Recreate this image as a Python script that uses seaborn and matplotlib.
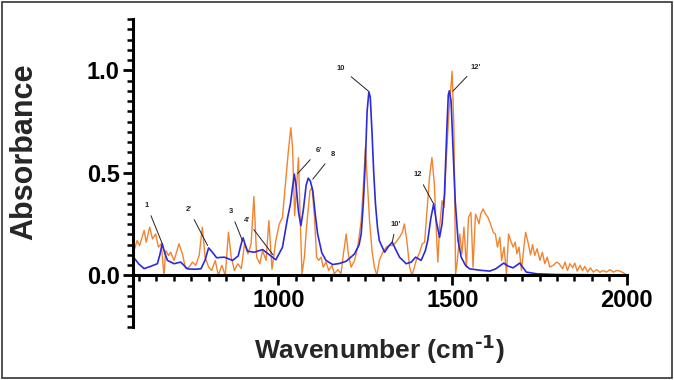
import matplotlib
matplotlib.use("Agg")
import matplotlib.pyplot as plt
from matplotlib.ticker import MultipleLocator, FixedLocator
from matplotlib.patches import Rectangle
import seaborn as sns
import pandas as pd

# ---------------- data ----------------
blue_wn = [583, 600, 615, 635, 653, 660, 667, 674, 682, 701, 720, 739, 760, 778,
           790, 800, 810, 823, 845, 869, 885, 893, 899, 905, 912, 931, 955, 975,
           993, 1012, 1027, 1035, 1041, 1046, 1051, 1058, 1065, 1072, 1080, 1086,
           1092, 1099, 1106, 1113, 1125, 1137, 1156, 1175, 1195, 1219, 1232, 1238,
           1244, 1250, 1255, 1260, 1264, 1269, 1274, 1279, 1285, 1290, 1305, 1318,
           1327, 1336, 1348, 1367, 1382, 1394, 1410, 1422, 1429, 1438, 1446, 1454,
           1463, 1470, 1477, 1484, 1488, 1491, 1496, 1501, 1508, 1516, 1525, 1537,
           1549, 1580, 1607, 1624, 1647, 1660, 1674, 1693, 1712, 1741, 1800, 1900,
           2000]
blue_abs = [0.092, 0.055, 0.033, 0.045, 0.057, 0.100, 0.154, 0.110, 0.073, 0.057,
            0.065, 0.032, 0.030, 0.032, 0.075, 0.134, 0.115, 0.086, 0.089, 0.073,
            0.095, 0.150, 0.183, 0.150, 0.118, 0.113, 0.126, 0.100, 0.076, 0.137,
            0.283, 0.350, 0.430, 0.494, 0.440, 0.310, 0.243, 0.320, 0.440, 0.474,
            0.460, 0.413, 0.300, 0.202, 0.110, 0.073, 0.053, 0.058, 0.069, 0.105,
            0.150, 0.202, 0.350, 0.558, 0.800, 0.895, 0.870, 0.700, 0.500, 0.348,
            0.230, 0.170, 0.113, 0.145, 0.162, 0.130, 0.089, 0.057, 0.065, 0.089,
            0.073, 0.120, 0.170, 0.280, 0.348, 0.260, 0.186, 0.250, 0.397, 0.720,
            0.880, 0.900, 0.850, 0.640, 0.360, 0.170, 0.089, 0.050, 0.032, 0.025,
            0.021, 0.032, 0.060, 0.045, 0.037, 0.060, 0.016, 0.008, 0.004, 0.003,
            0.002]

orange_wn = [583, 586, 595, 602, 615, 621, 631, 639, 648, 656, 664, 672, 677, 685,
             691, 701, 715, 725, 734, 744, 754, 763, 773, 782, 790, 800, 809, 819,
             828, 838, 848, 857, 865, 874, 884, 894, 903, 913, 922, 930, 938, 947,
             955, 965, 973, 982, 993, 1003, 1012, 1022, 1029, 1036, 1041, 1047,
             1053, 1058, 1062, 1068, 1075, 1081, 1091, 1097, 1104, 1110, 1116, 1123,
             1129, 1137, 1145, 1154, 1161, 1171, 1180, 1187, 1195, 1201, 1209, 1219,
             1228, 1238, 1244, 1250, 1255, 1262, 1269, 1276, 1283, 1290, 1300, 1310,
             1319, 1329, 1338, 1348, 1356, 1362, 1369, 1377, 1384, 1396, 1406, 1413,
             1420, 1427, 1434, 1441, 1448, 1454, 1458, 1463, 1470, 1476, 1482, 1490,
             1499, 1504, 1509, 1514, 1521, 1527, 1533, 1540, 1546, 1553, 1559, 1566,
             1570, 1576, 1581, 1588, 1595, 1602, 1609, 1617, 1623, 1629, 1636, 1641,
             1648, 1655, 1661, 1667, 1674, 1680, 1685, 1691, 1698, 1705, 1710, 1717,
             1724, 1730, 1736, 1743, 1751, 1758, 1765, 1772, 1779, 1789, 1799, 1806,
             1816, 1823, 1830, 1837, 1845, 1851, 1858, 1866, 1873, 1880, 1888, 1896,
             1904, 1914, 1923, 1933, 1942, 1952, 1962, 1971, 1981, 1992, 1998]
orange_abs = [0.154, 0.121, 0.170, 0.146, 0.219, 0.162, 0.235, 0.178, 0.202, 0.138,
              0.154, 0.000, 0.121, 0.097, 0.113, 0.073, 0.154, 0.105, 0.033, 0.041,
              0.065, 0.049, 0.097, 0.235, 0.089, 0.041, 0.024, 0.073, 0.000, 0.049,
              0.000, 0.210, 0.089, 0.024, 0.057, 0.033, 0.154, 0.105, 0.154, 0.384,
              0.089, 0.057, 0.121, 0.073, 0.267, 0.030, 0.170, 0.251, 0.283, 0.477,
              0.607, 0.720, 0.623, 0.291, 0.445, 0.574, 0.332, 0.008, 0.089, 0.235,
              0.413, 0.429, 0.283, 0.089, 0.073, 0.089, 0.040, 0.065, 0.024, 0.049,
              0.008, 0.028, 0.008, 0.105, 0.202, 0.105, 0.040, 0.073, 0.138, 0.267,
              0.429, 0.623, 0.477, 0.267, 0.121, 0.040, 0.000, 0.073, 0.113, 0.138,
              0.146, 0.146, 0.162, 0.186, 0.210, 0.251, 0.170, 0.040, 0.000, 0.073,
              0.113, 0.154, 0.162, 0.316, 0.477, 0.574, 0.445, 0.202, 0.065, 0.235,
              0.364, 0.332, 0.558, 0.801, 0.995, 0.720, 0.008, 0.073, 0.202, 0.105,
              0.235, 0.040, 0.283, 0.307, 0.040, 0.299, 0.283, 0.251, 0.299, 0.324,
              0.299, 0.283, 0.251, 0.210, 0.202, 0.138, 0.186, 0.073, 0.138, 0.008,
              0.202, 0.170, 0.138, 0.162, 0.105, 0.138, 0.024, 0.138, 0.210, 0.160,
              0.100, 0.150, 0.097, 0.130, 0.073, 0.113, 0.057, 0.089, 0.041, 0.049,
              0.065, 0.057, 0.033, 0.065, 0.024, 0.057, 0.037, 0.060, 0.021, 0.049,
              0.024, 0.044, 0.016, 0.037, 0.016, 0.028, 0.015, 0.024, 0.016, 0.028,
              0.016, 0.024, 0.021, 0.011, 0.005]

# peak annotations: label, peak wavenumber, peak absorbance
peak_labels = ["1", "2'", "3", "4'", "6'", "8", "10", "10'", "12", "12'"]
peak_wn = [667, 797, 897, 985, 1056, 1099, 1259, 1327, 1446, 1501]
peak_abs = [0.155, 0.146, 0.170, 0.100, 0.497, 0.469, 0.898, 0.162, 0.348, 0.898]

x_ticks = [1000, 1500, 2000]
y_ticks = [0.0, 0.5, 1.0]

# ---------------- style ----------------
sns.set_style("ticks")
plt.rcParams["font.family"] = ["Liberation Sans", "DejaVu Sans"]
plt.rcParams["font.weight"] = "bold"
plt.rcParams["mathtext.default"] = "bf"

fig = plt.figure(figsize=(6.74, 3.80), dpi=100)
ax = fig.add_axes([0.1973, 0.1403, 0.7325, 0.8097])

df_o = pd.DataFrame({"wn": orange_wn, "abs": orange_abs})
df_b = pd.DataFrame({"wn": blue_wn, "abs": blue_abs})
sns.lineplot(data=df_o, x="wn", y="abs", ax=ax, color="#F2842F", lw=1.0,
             sort=False, estimator=None, legend=False)
sns.lineplot(data=df_b, x="wn", y="abs", ax=ax, color="#2B2BDB", lw=1.2,
             sort=False, estimator=None, legend=False)

ax.set_xlim(583, 2000)
ax.set_ylim(-0.25, 1.25)

ax.spines["top"].set_visible(False)
ax.spines["right"].set_visible(False)
ax.spines["bottom"].set_position(("data", 0))
for s in ("left", "bottom"):
    ax.spines[s].set_linewidth(2.2)
    ax.spines[s].set_color("black")
    ax.spines[s].set_capstyle("projecting")

ax.xaxis.set_major_locator(FixedLocator(x_ticks))
ax.xaxis.set_minor_locator(MultipleLocator(50))
ax.yaxis.set_major_locator(FixedLocator(y_ticks))
ax.yaxis.set_minor_locator(MultipleLocator(0.05))
ax.set_xticklabels([str(v) for v in x_ticks])
ax.set_yticklabels([f"{v:.1f}" for v in y_ticks])

ax.tick_params(axis="both", which="major", direction="out", length=7.5,
               width=2.0, labelsize=17, colors="black", pad=2)
ax.tick_params(axis="both", which="minor", direction="out", length=4.5,
               width=1.8, colors="black")
for lab in ax.get_xticklabels() + ax.get_yticklabels():
    lab.set_fontweight("bold")

ax.set_xlabel("Wavenumber (cm$^{\u2010 1}$)", fontsize=19, fontweight="bold")
ax.set_ylabel("Absorbance", fontsize=22, fontweight="bold")
ax.xaxis.set_label_coords(0.5, -0.02)
ax.yaxis.set_label_coords(-0.19, 0.567)

# annotation text offsets (layout)
text_pos = [(623, 0.34), (744, 0.32), (864, 0.31), (909, 0.27), (1116, 0.61),
            (1156, 0.59), (1180, 1.01), (1338, 0.25), (1401, 0.49), (1567, 1.015)]
for lab, px, py, (tx, ty) in zip(peak_labels, peak_wn, peak_abs, text_pos):
    ax.annotate(lab, xy=(px, py), xytext=(tx, ty), textcoords="data",
                fontsize=5.5, fontweight="bold", ha="center", va="center",
                arrowprops=dict(arrowstyle="-", color="#222222", lw=0.7,
                                shrinkA=2.5, shrinkB=0))

fig.patches.append(Rectangle((0.003, 0.005), 0.994, 0.99, transform=fig.transFigure,
                             fill=False, edgecolor="#333333", lw=1.2))

fig.savefig("out.png", dpi=100)
